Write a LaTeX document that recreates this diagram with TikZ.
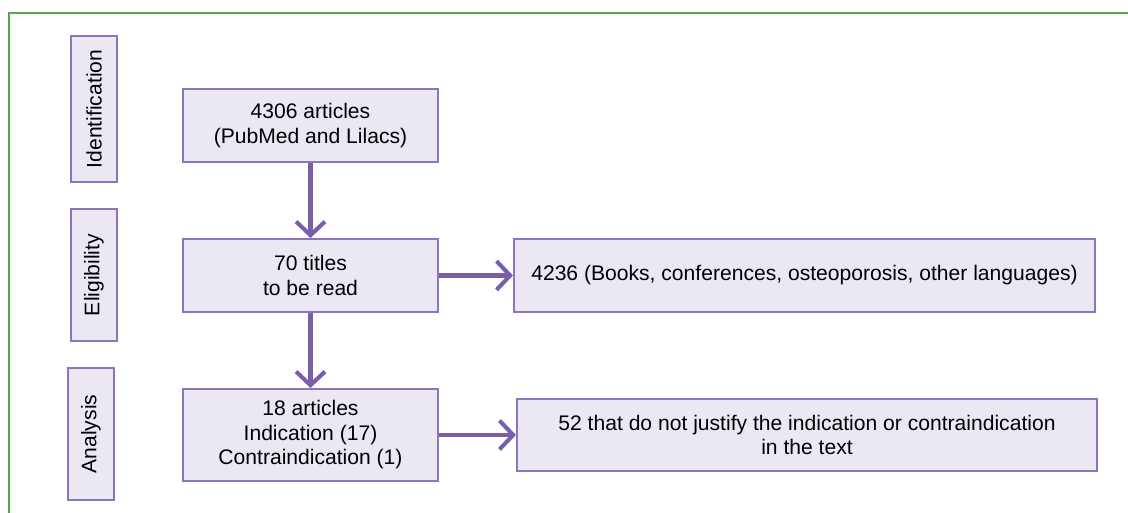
\documentclass[tikz,border=0pt]{standalone}
\usepackage{fontspec}
\setmainfont{Liberation Sans}
\usetikzlibrary{arrows.meta}
\definecolor{framegreen}{RGB}{80,170,70}
\definecolor{arrowpurple}{RGB}{122,94,168}
\definecolor{boxline}{RGB}{142,116,186}
\definecolor{boxfill}{RGB}{236,232,243}
\tikzset{
  flowbox/.style={draw=boxline, fill=boxfill, line width=1.4pt, align=center,
    font=\fontsize{15}{17.4}\selectfont, inner sep=0pt},
  phasebox/.style={flowbox, rotate=90, minimum height=1.15cm},
  flowarrow/.style={draw=arrowpurple, line width=2.9pt,
    -{Straight Barb[length=3.4mm, width=7.2mm]}}
}
\begin{document}
\begin{tikzpicture}[x=0.025cm, y=-0.025cm]
  \useasboundingbox (0,0) rectangle (1128,512);
  \draw[framegreen, line width=1.8pt] (9,520) -- (9,13) -- (1140,13);   % frame
  % phase labels
  \node[phasebox, minimum width=3.65cm] (ident) at (94,109) {Identification};
  \node[phasebox, minimum width=3.3cm] (elig) at (94,275) {Eligibility};
  \node[phasebox, minimum width=3.28cm] (anal) at (91,434) {Analysis};
  % main column
  \node[flowbox, minimum width=6.375cm, minimum height=1.825cm] (found) at (310.5,125.5) {4306 articles\\(PubMed and Lilacs)};
  \node[flowbox, minimum width=6.375cm, minimum height=1.825cm] (titles) at (310.5,275.5) {70 titles\\to be read};
  \node[flowbox, minimum width=6.375cm, minimum height=2.3cm] (kept) at (310.5,435) {18 articles\\Indication (17)\\Contraindication (1)};
  % excluded
  \node[flowbox, minimum width=14.525cm, minimum height=1.825cm] (excla) at (804.5,275.5) {4236 (Books, conferences, osteoporosis, other languages)};
  \node[flowbox, minimum width=14.5cm, minimum height=1.8cm] (exclb) at (807,435) {52 that do not justify the indication or contraindication\\in the text};
  % connectors
  \draw[flowarrow] (found) -- (titles);
  \draw[flowarrow] (titles) -- (kept);
  \draw[flowarrow] (titles) -- (excla);
  \draw[flowarrow] (kept.east) -- (kept.east -| exclb.west);
\end{tikzpicture}
\end{document}
